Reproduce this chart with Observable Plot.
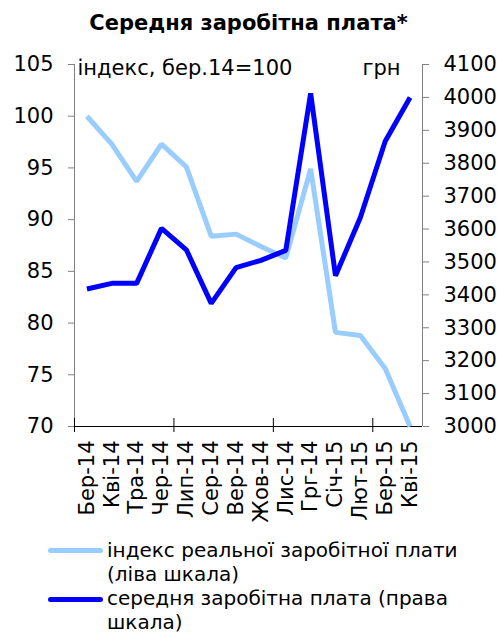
<!DOCTYPE html>
<html>
<head>
<meta charset="utf-8">
<script src="https://cdn.jsdelivr.net/npm/d3@7"></script>
<script src="https://cdn.jsdelivr.net/npm/@observablehq/plot@0.6"></script>
<style>
  body { margin: 0; background: #fff; font-family: "DejaVu Sans", Verdana, sans-serif; color: #000; }
  #wrap { position: relative; width: 497px; height: 635px; overflow: hidden; }
  #title { position: absolute; top: 0; left: 0; width: 497px; height: 45px; line-height: 46px; text-align: center; font-weight: bold; font-size: 21px; }
  #chart { position: absolute; top: 45px; left: 0; }
  .leg { position: absolute; left: 48px; font-size: 20px; line-height: 24px; }
  .leg .sw { position: absolute; left: 0; width: 55px; height: 5px; border-radius: 3px; }
  .leg .tx { position: absolute; left: 59px; width: 390px; }
</style>
</head>
<body>
<div id="wrap">
  <div id="title">Середня заробітна плата*</div>
  <div id="chart"></div>
  <div class="leg" style="top:538px"><div class="sw" style="top:10px;background:#99ccff"></div><div class="tx" id="l1"></div></div>
  <div class="leg" style="top:586px"><div class="sw" style="top:11px;background:#0000ff"></div><div class="tx" id="l2"></div></div>
</div>
<script>
const months = ["Бер-14","Кві-14","Тра-14","Чер-14","Лип-14","Сер-14","Вер-14","Жов-14","Лис-14","Грг-14","Січ-15","Лют-15","Бер-15","Кві-15"];
const realIndex = [100, 97.3, 93.7, 97.3, 95.1, 88.4, 88.6, 87.4, 86.3, 94.9, 79.1, 78.8, 75.6, 70.0];
const avgWage = [3418, 3435, 3435, 3602, 3537, 3374, 3483, 3505, 3535, 4012, 3458, 3635, 3867, 4000];
const leftTicks = [70, 75, 80, 85, 90, 95, 100, 105];
const rightTicks = [3000, 3100, 3200, 3300, 3400, 3500, 3600, 3700, 3800, 3900, 4000, 4100];
const seriesNames = ["індекс реальної заробітної плати (ліва шкала)", "середня заробітна плата (права шкала)"];
const leftLabel = "індекс, бер.14=100";
const rightLabel = "грн";

const toLeft = d3.scaleLinear([3000, 4100], [70, 105]);
const idx = months.map((_, i) => i);
const xDomain = [-0.5, months.length - 0.5];
const boundaries = d3.range(-0.5, months.length, 4);

const fs = 21;
const axisColor = "#808080";

const plot = Plot.plot({
  width: 497,
  height: 480,
  marginLeft: 74,
  marginRight: 75,
  marginTop: 19,
  marginBottom: 99,
  style: { fontFamily: "DejaVu Sans, Verdana, sans-serif", fontSize: fs + "px", color: "#000", background: "#fff" },
  x: { type: "linear", domain: xDomain },
  y: { domain: [70, 105] },
  marks: [
    // axis lines
    Plot.ruleX(xDomain, { stroke: axisColor, strokeWidth: 1 }),
    Plot.ruleY([70], { stroke: "#000", strokeWidth: 1 }),
    // left axis
    Plot.axisY({ anchor: "left", ticks: leftTicks, tickSize: 6, tickPadding: 15, label: null, stroke: axisColor, fontSize: fs }),
    // right axis
    Plot.axisY({ anchor: "right", ticks: rightTicks.map(toLeft), tickSize: 6, tickPadding: 15, label: null, stroke: axisColor, fontSize: fs,
      tickFormat: d => String(Math.round(toLeft.invert(d))) }),
    // x boundary ticks (crossing)
    Plot.axisX({ ticks: boundaries, tickSize: 14, dy: -8, tickFormat: () => "", label: null, stroke: "#000" }),
    // x labels
    Plot.axisX({ ticks: idx, tickSize: 0, tickPadding: 14, tickRotate: -90, tickFormat: i => months[i], label: null, fontSize: fs }),
    // corner labels
    Plot.text([leftLabel], { frameAnchor: "top-left", textAnchor: "start", lineAnchor: "middle", dx: 3, dy: 4, fontSize: fs }),
    Plot.text([rightLabel], { frameAnchor: "top-right", textAnchor: "end", lineAnchor: "middle", dx: -22, dy: 4, fontSize: fs }),
    // series
    Plot.line(idx, { x: i => i, y: i => realIndex[i], stroke: "#99ccff", strokeWidth: 5, strokeLinejoin: "miter", strokeLinecap: "butt", clip: false }),
    Plot.line(idx, { x: i => i, y: i => toLeft(avgWage[i]), stroke: "#0000ff", strokeWidth: 5, strokeLinejoin: "miter", strokeLinecap: "butt" })
  ]
});
document.getElementById("chart").appendChild(plot);
document.getElementById("l1").textContent = seriesNames[0];
document.getElementById("l2").textContent = seriesNames[1];
</script>
</body>
</html>
